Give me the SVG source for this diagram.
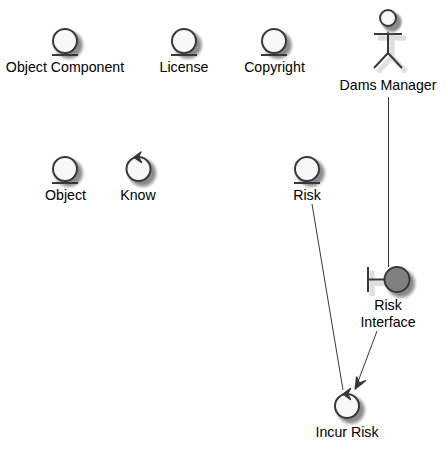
<svg xmlns="http://www.w3.org/2000/svg" width="447" height="449" viewBox="0 0 447 449">
<style>
text{font-family:"Liberation Sans",Arial,sans-serif;font-size:14.2px;fill:#000;text-anchor:middle}
.s{fill:#F8F8F8;stroke:#383838;stroke-width:2}
.d{fill:url(#sg);stroke:none}
.l{fill:none;stroke:#383838;stroke-width:2}
.w{fill:none;stroke:#ececec;stroke-width:6}
.x{fill:none;stroke:#dedede;stroke-width:4}
.c{fill:none;stroke:#383838;stroke-width:1}
.h{fill:#383838;stroke:#383838;stroke-width:1.500;stroke-linejoin:round}
</style>
<defs>
<radialGradient id="sg"><stop offset="0.650" stop-color="#8c8c8c"/><stop offset="0.800" stop-color="#c4c4c4"/><stop offset="1" stop-color="#fff" stop-opacity="0"/></radialGradient>
</defs>
<rect width="447" height="449" fill="#fff"/>
<g id="connectors">
<line class="c" x1="388.500" y1="97" x2="388.500" y2="267"/>
<line class="c" x1="312" y1="204" x2="343" y2="390"/>
<line class="c" x1="377" y1="331" x2="356" y2="387"/>
<path class="h" d="M355.200 389 L356.700 377 L359.300 383.300 L365.500 380.700 Z"/>
</g>
<g id="object-component"><circle class="d" cx="69" cy="45" r="17"/><circle class="s" cx="65" cy="41" r="12"/><line class="l" x1="52" y1="55" x2="78" y2="55"/><text x="65" y="72">Object Component</text></g>
<g id="license"><circle class="d" cx="188" cy="45" r="17"/><circle class="s" cx="184" cy="41" r="12"/><line class="l" x1="171" y1="55" x2="197" y2="55"/><text x="184" y="72">License</text></g>
<g id="copyright"><circle class="d" cx="278" cy="45" r="17"/><circle class="s" cx="274" cy="41" r="12"/><line class="l" x1="261" y1="55" x2="287" y2="55"/><text x="274.500" y="72">Copyright</text></g>
<g id="dams-manager"><path class="w" d="M392 30V57M378 38H406M378 72L392 57L406 72"/><path class="x" d="M392 30V57M378 38H406M378 72L392 57L406 72"/><path class="l" d="M388 26V53M374 34H402M374 68L388 53L402 68"/><circle class="d" cx="392" cy="22" r="12"/><circle class="s" cx="388" cy="18" r="8"/><text x="388" y="90">Dams Manager</text></g>
<g id="object"><circle class="d" cx="69" cy="173" r="17"/><circle class="s" cx="65" cy="169" r="12"/><line class="l" x1="52" y1="183" x2="78" y2="183"/><text x="65.500" y="200">Object</text></g>
<g id="know"><circle class="d" cx="142.500" cy="173" r="17"/><circle class="s" cx="138.500" cy="169" r="12"/><path class="h" d="M134 157.300L141 152L138.300 157L141.500 162.500Z"/><text x="138" y="200">Know</text></g>
<g id="risk"><circle class="d" cx="311" cy="173" r="17"/><circle class="s" cx="307" cy="169" r="12"/><line class="l" x1="294" y1="183" x2="320" y2="183"/><text x="307" y="200">Risk</text></g>
<g id="risk-interface"><path class="w" d="M372 271V296M372 283.500H388"/><path class="x" d="M372 271V296M372 283.500H388"/><path class="l" d="M368 267V292M368 279.500H384"/><circle class="d" cx="401" cy="283.500" r="17.500"/><circle class="s" cx="397" cy="279.500" r="12.500" style="fill:#808080"/><text x="388" y="310">Risk</text><text x="388" y="327">Interface</text></g>
<g id="incur-risk"><circle class="d" cx="351" cy="410" r="17"/><circle class="s" cx="347" cy="406" r="12"/><path class="h" d="M343 394L350.500 388.500L347.300 394L350.500 399.500Z"/><text x="347" y="437">Incur Risk</text></g>
</svg>
